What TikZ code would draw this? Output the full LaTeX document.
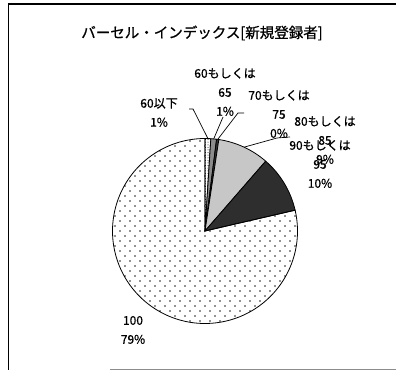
\documentclass[tikz,border=0pt]{standalone}
\usepackage{fontspec}
\newfontfamily\jpfont[FakeBold=0.8]{Noto Sans CJK JP}
\usepackage{tikz}
\usetikzlibrary{patterns.meta}
\usepackage{xcolor}

\tikzset{
  lbl/.style={font=\jpfont\fontsize{12}{19}\selectfont, align=center, inner sep=0pt},
  leader/.style={line width=0.7pt},
  sl1/.style={pattern={Dots[radius=0.5pt,distance=2.6pt]}},
  sl2/.style={fill=black!45},
  sl3/.style={fill=black!80},
  sl4/.style={fill=black!22},
  sl5/.style={fill=black!82},
  sl6/.style={pattern={Dots[radius=0.8pt,distance=7.07pt,angle=45]}}
}

\begin{document}
\begin{tikzpicture}[x=1pt,y=1pt]
        \useasboundingbox (0,0) rectangle (396,371);
        % marco
        \draw[line width=1.2pt] (8.5,1) -- (8.5,367) -- (396,367);
        \draw[line width=1pt,black!45] (110,1.5) -- (396,1.5);
        % titulo
        \node[font=\jpfont\fontsize{14.5}{16}\selectfont] (title) at (202,338) {バーセル・インデックス[新規登録者]};
        % sectores
        \coordinate (c) at (205,140);
        \foreach \a/\b/\s in {90/86.4/sl1,86.4/82.8/sl2,82.8/81.4/sl3,81.4/49/sl4,49/13/sl5,13/-270/sl6}
        \draw[line width=0.8pt,\s] (c) -- ++(\a:92.5) arc[start angle=\a,end angle=\b,radius=92.5] -- cycle;
        % etiquetas
        \node[lbl] (l60) at (159,258.5) {60以下\\1\%};
        \node[lbl] (l65) at (225,279) {60もしくは\\65\\1\%};
        \node[lbl] (l75) at (279,257) {70もしくは\\75\\0\%};
        \node[lbl] (l85) at (325,231) {80もしくは\\85\\9\%};
        \node[lbl] (l95) at (320,207) {90もしくは\\95\\10\%};
        \node[lbl] (l100) at (133,41) {100\\79\%};
        % lineas guia
        \path (c) ++(88.2:92.5) coordinate (p1);
        \path (c) ++(84.6:92.5) coordinate (p2);
        \path (c) ++(82.1:92.5) coordinate (p3);
        \path (c) ++(65:92.5) coordinate (p4);
        \coordinate (k1) at (193,262);
        \coordinate (e1) at (189,262);
        \coordinate (e2) at (223,254);
        \coordinate (k3) at (238,258);
        \coordinate (e3) at (244,258);
        \coordinate (k4) at (277,233);
        \coordinate (e4) at (290,234);
        \draw[leader] (p1) -- (k1) -- (e1);
        \draw[leader] (p2) -- (e2);
        \draw[leader] (p3) -- (k3) -- (e3);
        \draw[leader] (p4) -- (k4) -- (e4);
\end{tikzpicture}
\end{document}
